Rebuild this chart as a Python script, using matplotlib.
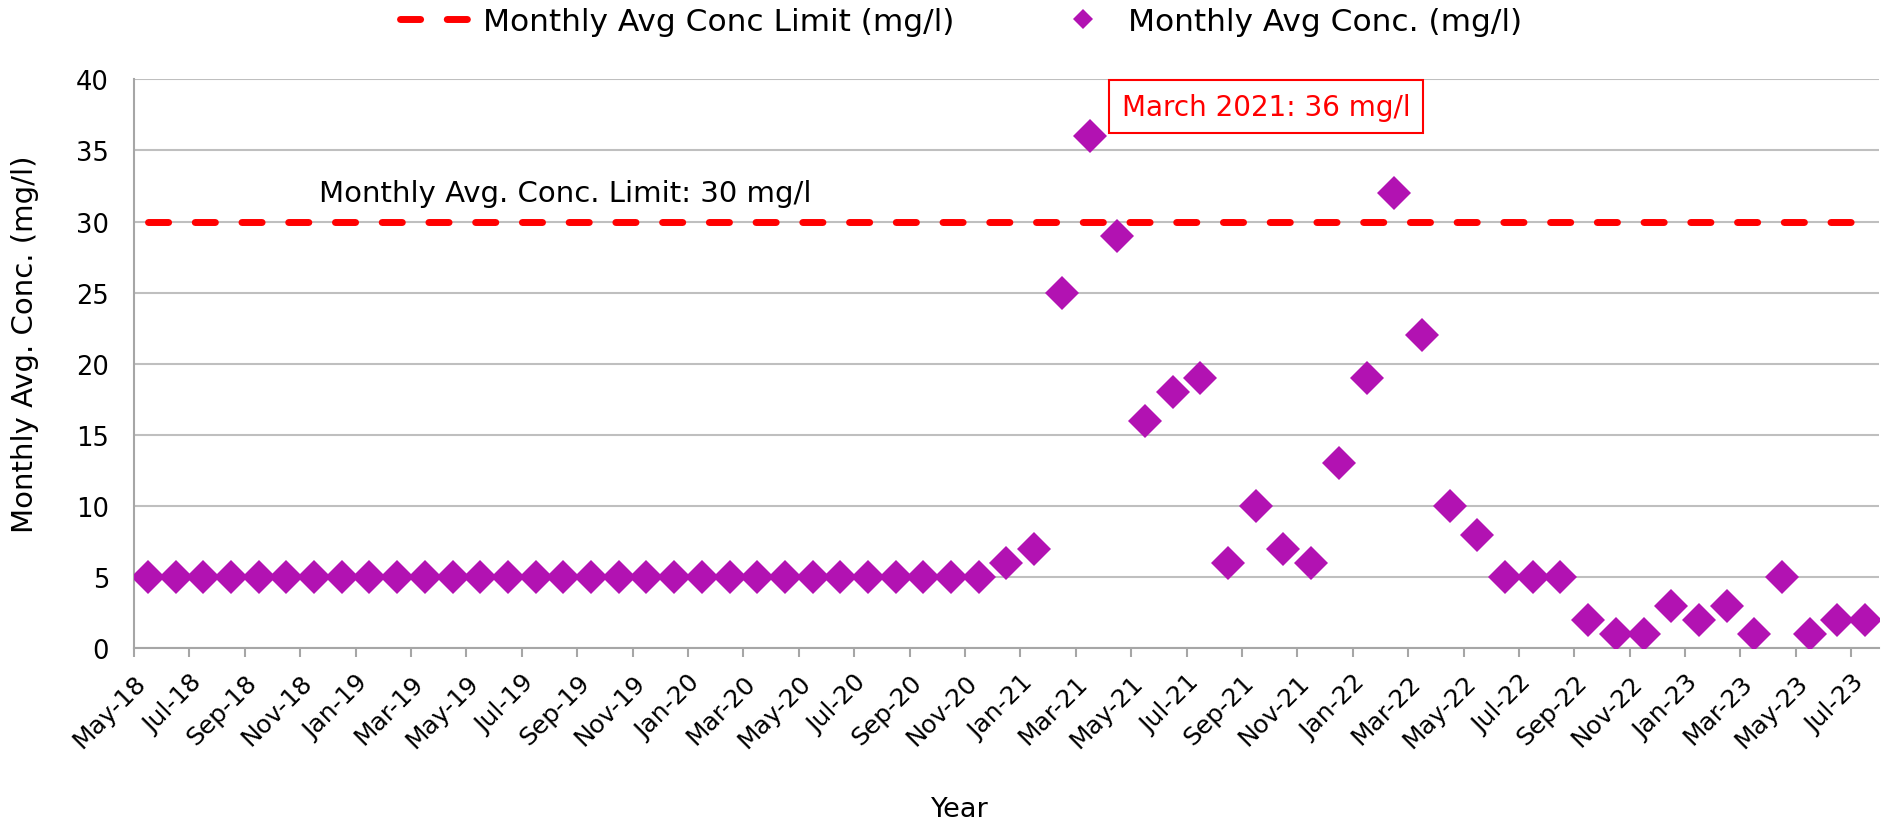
import numpy as np
import pandas as pd
import matplotlib
matplotlib.use("Agg")
import matplotlib.pyplot as plt
from matplotlib.lines import Line2D

# monthly data, May-18 .. Jul-23
months = pd.period_range("2018-05", "2023-07", freq="M")
conc = [5, 5, 5, 5, 5, 5, 5, 5, 5, 5,
        5, 5, 5, 5, 5, 5, 5, 5, 5, 5,
        5, 5, 5, 5, 5, 5, 5, 5, 5, 5,
        5, 6, 7, 25, 36, 29, 16, 18, 19, 6,
        10, 7, 6, 13, 19, 32, 22, 10, 8, 5,
        5, 5, 2, 1, 1, 3, 2, 3, 1, 5,
        1, 2, 2]
limit = [30] * 63
tick_labels = [m.strftime("%b-%y") for m in months[::2]]
y_ticks = [0, 5, 10, 15, 20, 25, 30, 35, 40]

PURPLE = "#B212B2"
RED = "#FF0000"
GRID = "#BFBFBF"
DASH = (0, (2.9, 3.83))

plt.rcParams["font.family"] = ["DejaVu Sans"]

fig = plt.figure(figsize=(18.82, 8.2), dpi=100)
ax = fig.add_axes([0.0712, 0.208, 0.9272, 0.694])

x_conc = np.arange(len(conc)) + 0.5
x_lim = np.arange(len(limit)) + 0.5

ax.plot(x_lim, limit, color=RED, lw=5, linestyle=DASH,
        dash_capstyle="round", zorder=3)
ax.plot(x_conc, conc, linestyle="none", marker="D", ms=17.5,
        color=PURPLE, markeredgewidth=0, zorder=4)

ax.set_xlim(0, 63)
ax.set_ylim(0, 40)
ax.set_yticks(y_ticks)
ax.set_xticks(np.arange(0, len(months), 2))
ax.set_xticklabels(tick_labels, rotation=45, ha="right", va="top",
                   rotation_mode="anchor")
ax.tick_params(axis="x", length=6.5, width=1.5, color="#A6A6A6",
               labelsize=18, pad=9)
ax.tick_params(axis="y", length=0, labelsize=18.5, pad=18)
ax.grid(axis="y", color=GRID, lw=1.5)
ax.set_axisbelow(True)
for side in ["top", "right"]:
    ax.spines[side].set_visible(False)
for side in ["left", "bottom"]:
    ax.spines[side].set_color("#A6A6A6")
    ax.spines[side].set_linewidth(1.5)

ax.text(15.56, 32.0, "Monthly Avg. Conc. Limit: 30 mg/l", fontsize=21,
        ha="center", va="center")
ax.text(40.87, 38.08, "March 2021: 36 mg/l", fontsize=20, color=RED,
        ha="center", va="center",
        bbox=dict(boxstyle="square,pad=0.45", fc="white", ec=RED, lw=1.5))

fig.text(0.0135, 0.58, "Monthly Avg. Conc. (mg/l)", rotation=90,
         fontsize=21, ha="center", va="center")
fig.text(0.51, 0.012, "Year", fontsize=19.5, ha="center", va="center")

handles = [Line2D([], [], color=RED, lw=5, linestyle=DASH,
                  dash_capstyle="round"),
           Line2D([], [], linestyle="none", marker="D", ms=10.5, color=PURPLE,
                  markeredgewidth=0)]
fig.legend(handles, ["Monthly Avg Conc Limit (mg/l)", "Monthly Avg Conc. (mg/l)"],
           loc="center", bbox_to_anchor=(0.5107, 0.973), ncol=2, frameon=False,
           fontsize=22.5, handlelength=2.4, handletextpad=0.25,
           columnspacing=2.9)

fig.savefig("out.png", dpi=100)
